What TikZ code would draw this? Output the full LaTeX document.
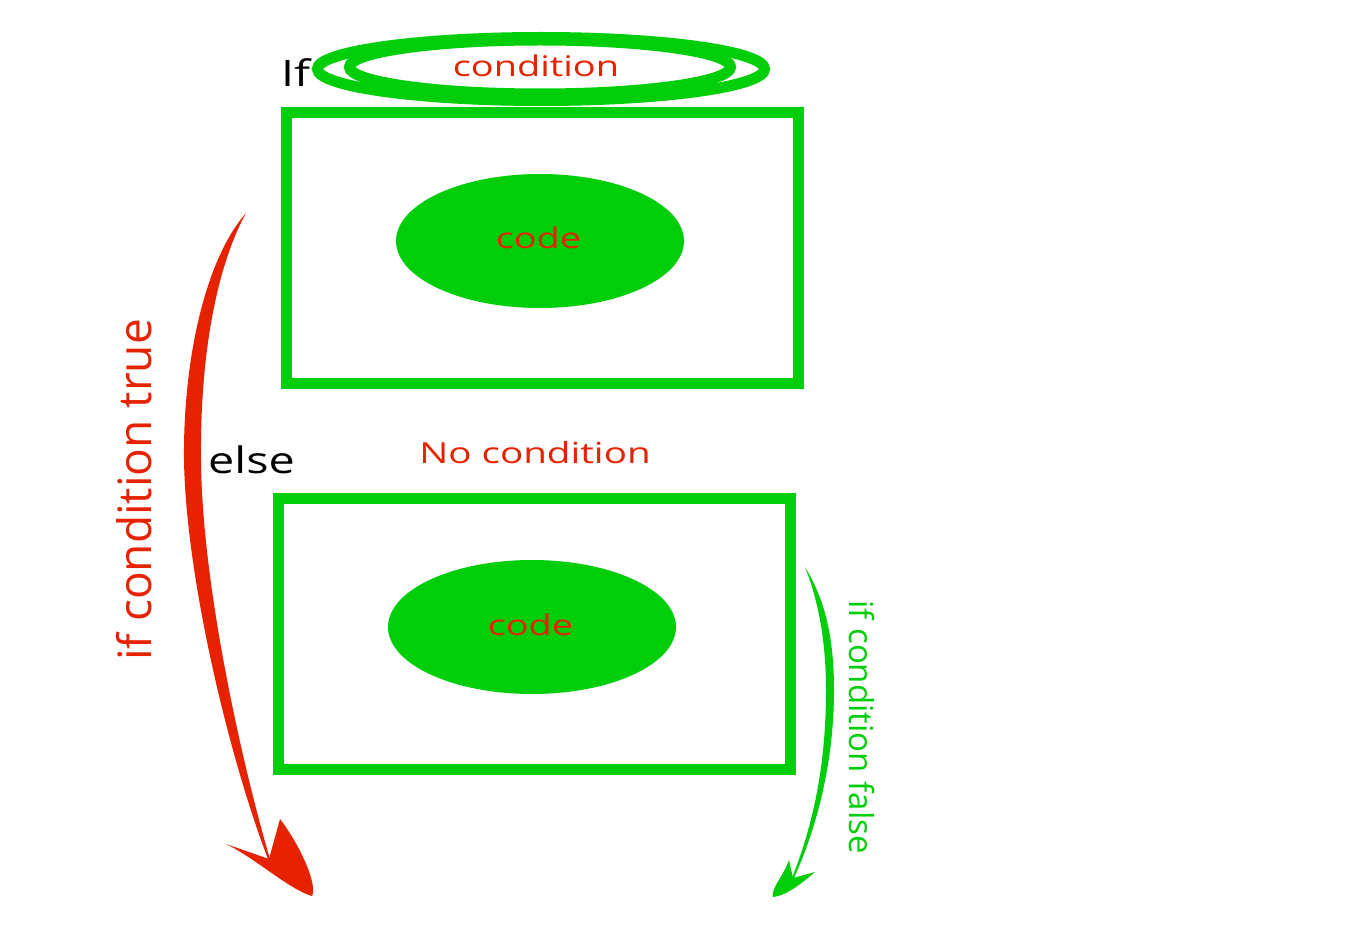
\documentclass[tikz,border=0pt]{standalone}
\usepackage{fontspec}
\usetikzlibrary{shapes.geometric}
\newfontfamily\stA[FakeStretch=1.28]{Open Sans}
\newfontfamily\stB[FakeStretch=1.33]{Open Sans}
\newfontfamily\stN{Open Sans}
\definecolor{grn}{RGB}{0,206,10}
\definecolor{rd}{RGB}{230,34,0}
\tikzset{
  box/.style={draw=grn, line width=11pt, rectangle, inner sep=0pt, minimum width=511.5pt, minimum height=270.5pt},
  ring/.style={draw=grn, line width=11pt, ellipse, inner sep=0pt},
  blob/.style={fill=grn, ellipse, inner sep=0pt, minimum width=288pt, minimum height=134pt},
  lbl/.style={inner sep=0pt, anchor=base},
}
\begin{document}
\begin{tikzpicture}[x=1pt,y=-1pt]
\useasboundingbox (0,0) rectangle (1366,925);
% boxes
\node[box] (box1) at (542.5,248.25) {};
\node[box] (box2) at (534.25,633.75) {};
% condition ellipses
\node[ring, minimum width=447pt, minimum height=63pt] (outer) at (541,69) {};
\node[ring, minimum width=381pt, minimum height=54pt] (inner) at (540,67) {};
% code ellipses
\node[blob] (code1) at (540,241) {};
\node[blob] (code2) at (532,627) {};
% texts
\node[lbl, text=black] (if) at (295.5,87) {\stA\fontsize{36.5}{40}\selectfont If};
\node[lbl, text=rd] (cond) at (536,77) {\stB\fontsize{28.5}{30}\selectfont condition};
\node[lbl, text=rd] (c1) at (538.5,249) {\stB\fontsize{28.5}{30}\selectfont code};
\node[lbl, text=rd] (c2) at (530.5,635) {\stB\fontsize{28.5}{30}\selectfont code};
\node[lbl, text=rd] (nocond) at (535,463) {\stB\fontsize{29}{30}\selectfont No condition};
\node[lbl, text=black] (else) at (251.5,473) {\stA\fontsize{36.5}{40}\selectfont else};
\node[lbl, text=rd, rotate=90] (ttrue) at (151,490) {\stN\fontsize{46}{50}\selectfont if condition true};
\node[lbl, text=grn, rotate=-90] (tfalse) at (849,727) {\stN\fontsize{33}{36}\selectfont if condition false};
% red arrow shaft
\fill[rd] (246,213) .. controls (205,260) and (183,360) .. (184,460)
  .. controls (186,580) and (230,760) .. (268,859) -- (270,859)
  .. controls (245,775) and (202,590) .. (201,460)
  .. controls (200,360) and (215,270) .. (246,213) -- cycle;
% red arrow head
\fill[rd] (269,859) -- (226,844) .. controls (255,858) and (290,890) .. (312,896)
  .. controls (318,885) and (300,845) .. (280,819) -- cycle;
% green arrow shaft
\fill[grn] (805,567) .. controls (818,600) and (826,640) .. (826,690)
  .. controls (826,760) and (815,820) .. (792,878) -- (794,878)
  .. controls (818,825) and (834,760) .. (834,690)
  .. controls (834,630) and (822,595) .. (805,567) -- cycle;
% green arrow head
\fill[grn] (793,878) -- (789,860) .. controls (784,875) and (770,890) .. (773,897)
  .. controls (785,896) and (800,885) .. (815,872) -- cycle;
\end{tikzpicture}
\end{document}
